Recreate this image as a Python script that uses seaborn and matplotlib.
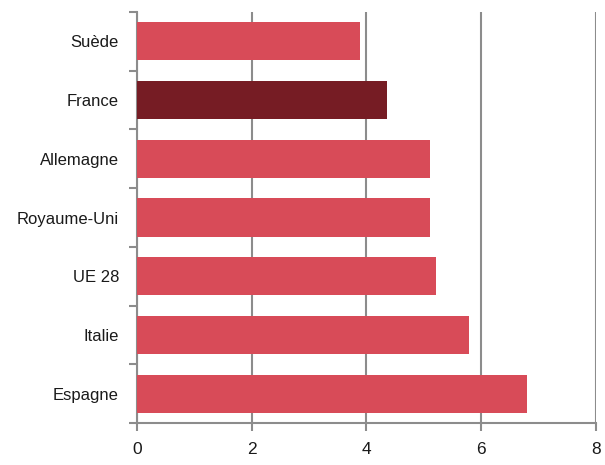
import numpy as np
import matplotlib.pyplot as plt
import seaborn as sns
import pandas as pd

pays = ["Suède", "France", "Allemagne", "Royaume-Uni", "UE 28", "Italie", "Espagne"]
valeurs = [3.88, 4.36, 5.10, 5.10, 5.21, 5.78, 6.79]
couleurs = ["#D84B58", "#761C24", "#D84B58", "#D84B58", "#D84B58", "#D84B58", "#D84B58"]

sns.set_style("white")
plt.rcParams['font.family'] = ['Liberation Sans Narrow', 'Liberation Sans', 'DejaVu Sans']

df = pd.DataFrame({"pays": pays, "valeur": valeurs})

fig = plt.figure(figsize=(6.05, 4.65), dpi=100)
ax = fig.add_axes([0.2264, 0.0903, 0.7587, 0.8839])

sns.barplot(data=df, y="pays", x="valeur", hue="pays", palette=couleurs,
            legend=False, width=0.65, saturation=1, linewidth=0, ax=ax, zorder=3)

gris = "#8C8C8C"
ax.set_xlim(0, 8)
ax.set_ylim(len(pays) - 0.5, -0.5)
ax.set_xticks([0, 2, 4, 6, 8])
ax.xaxis.grid(True, color=gris, linewidth=1.5, zorder=0)
ax.set_axisbelow(True)

# tick marks between categories on the y axis
ax.set_yticks(np.arange(len(pays)))
ax.set_yticks(np.arange(len(pays) + 1) - 0.5, minor=True)
ax.tick_params(axis="y", which="major", left=True, length=0, labelsize=12, pad=13, colors="#1a1a1a")
ax.tick_params(axis="y", which="minor", left=True, length=6, width=1.5, color=gris, direction="out")
ax.tick_params(axis="x", which="major", bottom=True, length=6, width=1.5, color=gris, direction="out",
               labelsize=12.5, labelcolor="#1a1a1a", pad=8)

for s in ["top", "right"]:
    ax.spines[s].set_visible(False)
for s in ["left", "bottom"]:
    ax.spines[s].set_color(gris)
    ax.spines[s].set_linewidth(1.5)

ax.set_xlabel("")
ax.set_ylabel("")

plt.savefig("out.png", dpi=100)
